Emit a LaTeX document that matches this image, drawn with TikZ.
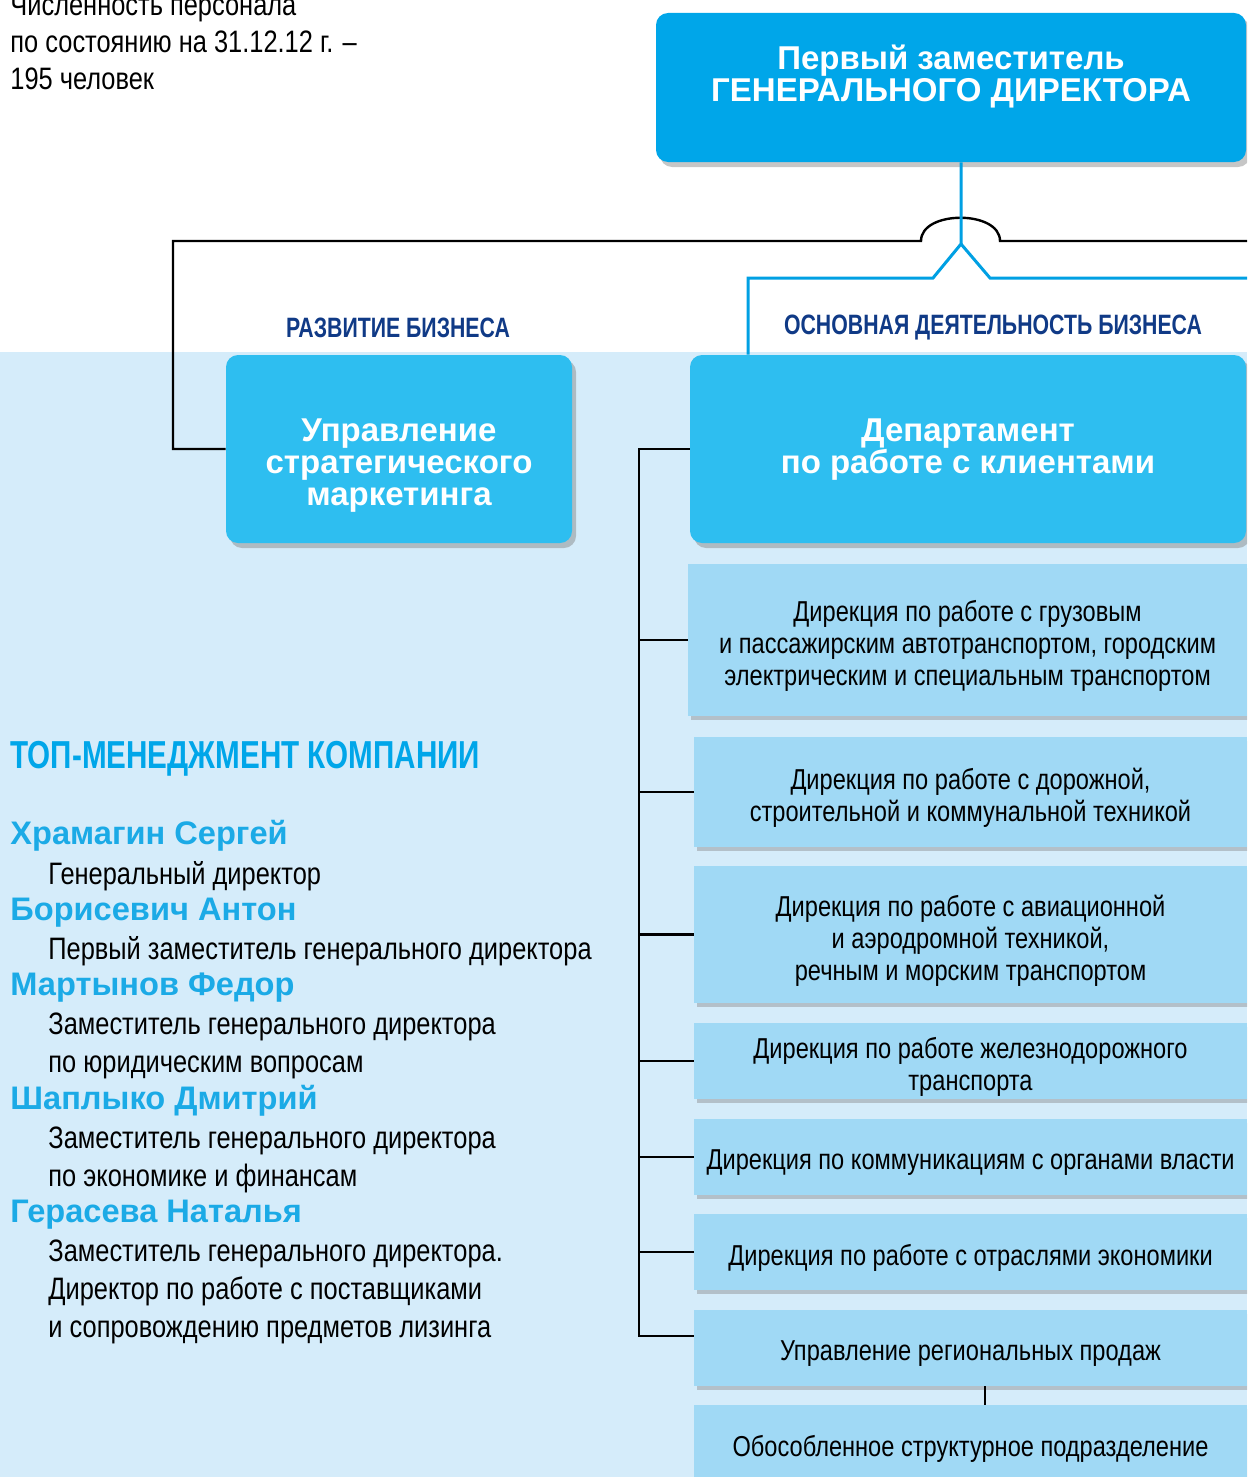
\documentclass[tikz,border=0pt]{standalone}
\usepackage{fontspec}
\setmainfont{Liberation Sans}
\newfontfamily\condfont[FakeStretch=0.82]{Liberation Sans}
\newfontfamily\headfont[FakeStretch=0.76]{Liberation Sans}
\usepackage{tikz}
\usetikzlibrary{shadows}

\definecolor{topblue}{RGB}{0,166,233}
\definecolor{midblue}{RGB}{46,190,240}
\definecolor{lightbox}{RGB}{160,217,245}
\definecolor{bgpale}{RGB}{213,236,250}
\definecolor{navy}{RGB}{16,58,134}
\definecolor{nameblue}{RGB}{27,170,230}
\definecolor{lineblue}{RGB}{0,160,227}

\tikzset{
	bigbox/.style={rounded corners=6pt, inner sep=0pt, drop shadow={shadow xshift=2pt, shadow yshift=-2.5pt, opacity=0.45}},
	topbox/.style={bigbox, fill=topblue, minimum width=295pt, minimum height=74.5pt},
	unitbox/.style={bigbox, fill=midblue, minimum height=94pt},
	dirbox/.style={fill=lightbox, inner sep=0pt, minimum width=276.5pt, drop shadow={shadow xshift=1.5pt, shadow yshift=-2pt, opacity=0.4}},
	dirtext/.style={inner sep=0pt, yshift=-3pt, align=center, font=\condfont\fontsize{14.4}{16}\selectfont},
	boxtitle/.style={text=white, inner sep=0pt, align=center, font=\bfseries\fontsize{16.5}{16}\selectfont},
	branchlabel/.style={text=navy, inner sep=0pt, font=\headfont\bfseries\fontsize{14}{16}\selectfont},
	persname/.style={anchor=west, inner sep=0pt, text=nameblue, font=\bfseries\fontsize{16.3}{18}\selectfont},
	postline/.style={anchor=west, inner sep=0pt, align=left, font=\condfont\fontsize{15.5}{19}\selectfont},
	blackline/.style={line width=1.2pt},
	blueline/.style={line width=1.5pt, draw=lineblue},
}

\begin{document}
\begin{tikzpicture}[x=0.5pt, y=-0.5pt]
	\useasboundingbox (0,0) rectangle (1247,1477);
	\clip (0,0) rectangle (1247,1477);
	\fill[bgpale] (0,352) rectangle (1247,1477);

	% top of the tree
	\node[topbox, label={[boxtitle, yshift=5.25pt]center:Первый заместитель\\ГЕНЕРАЛЬНОГО ДИРЕКТОРА}] (top) at (951,87.5) {};

	\node[branchlabel] (devlabel) at (398,328) {РАЗВИТИЕ БИЗНЕСА};
	\node[branchlabel] (corelabel) at (993,328) {ОСНОВНАЯ ДЕЯТЕЛЬНОСТЬ БИЗНЕСА};

	\node[unitbox, minimum width=173pt, label={[boxtitle, yshift=-8.5pt]center:Управление\\стратегического\\маркетинга}] (market) at (399,449) {};
	\node[unitbox, minimum width=278pt, label={[boxtitle, yshift=-0.5pt]center:Департамент\\по работе с клиентами}] (clients) at (968,449) {};

	% directorates
	\node[dirbox, minimum width=279.5pt, minimum height=76pt, label={[dirtext]center:{Дирекция по работе с грузовым\\и пассажирским автотранспортом, городским\\электрическим и специальным транспортом}}] (d1) at (967.5,640) {};
	\node[dirbox, minimum height=55pt, label={[dirtext]center:{Дирекция по работе с дорожной,\\строительной и коммунальной техникой}}] (d2) at (970.5,792) {};
	\node[dirbox, minimum height=68.5pt, label={[dirtext]center:{Дирекция по работе с авиационной\\и аэродромной техникой,\\речным и морским транспортом}}] (d3) at (970.5,934.5) {};
	\node[dirbox, minimum height=38pt, label={[dirtext]center:{Дирекция по работе железнодорожного\\транспорта}}] (d4) at (970.5,1061) {};
	\node[dirbox, minimum height=38pt, label={[dirtext]center:{Дирекция по коммуникациям с органами власти}}] (d5) at (970.5,1157) {};
	\node[dirbox, minimum height=38pt, label={[dirtext]center:{Дирекция по работе с отраслями экономики}}] (d6) at (970.5,1252) {};
	\node[dirbox, minimum height=38pt, label={[dirtext]center:{Управление региональных продаж}}] (d7) at (970.5,1348) {};
	\node[dirbox, minimum height=38pt, label={[dirtext]center:{Обособленное структурное подразделение}}] (d8) at (970.5,1443) {};

	% left column
	\node[postline, font=\condfont\fontsize{15.5}{18.5}\selectfont] (staff) at (10,42) {Численность персонала\\по состоянию на 31.12.12 г. –\\195 человек};
	\node[anchor=west, inner sep=0pt, text=topblue, font=\headfont\bfseries\fontsize{19.5}{22}\selectfont] (tophead) at (10,759) {ТОП-МЕНЕДЖМЕНТ КОМПАНИИ};

	\node[persname] (p1) at (10,836) {Храмагин Сергей};
	\node[postline] (r1) at (48,876) {Генеральный директор};
	\node[persname] (p2) at (10,913) {Борисевич Антон};
	\node[postline] (r2) at (48,951) {Первый заместитель генерального директора};
	\node[persname] (p3) at (10,988) {Мартынов Федор};
	\node[postline] (r3) at (48,1046) {Заместитель генерального директора\\по юридическим вопросам};
	\node[persname] (p4) at (10,1101) {Шаплыко Дмитрий};
	\node[postline] (r4) at (48,1159.5) {Заместитель генерального директора\\по экономике и финансам};
	\node[persname] (p5) at (10,1215) {Герасева Наталья};
	\node[postline] (r5) at (48,1292) {Заместитель генерального директора.\\Директор по работе с поставщиками\\и сопровождению предметов лизинга};

	% connectors
	\coordinate (fork) at (961,244);
	\coordinate (bluedrop) at (748,278);
	\coordinate (eastblue) at (1247,278);
	\coordinate (eastblack) at (1247,241);
	\coordinate (bus) at (639,447);

	\draw[blackline] (market.west) -| (173,241) -- (921,241) .. controls (921,210) and (1000,210) .. (1000,241) -- (eastblack);
	\draw[blueline] ([xshift=5pt]top.south) -- (fork) -- (933,278) -- (bluedrop) -- (bluedrop |- clients.north);
	\draw[blueline] (fork) -- (990,278) -- (eastblue);

	\draw[blackline] (clients.west) -- (clients.west -| bus) |- ([yshift=6pt]d7.west);
	\foreach \d in {d1,d2,d3,d4,d5,d6}
		\draw[blackline] (bus |- \d.west) -- (\d.west);
	\draw[blackline] ([xshift=7.25pt]d7.south) -- ([xshift=7.25pt]d8.north);
\end{tikzpicture}
\end{document}
